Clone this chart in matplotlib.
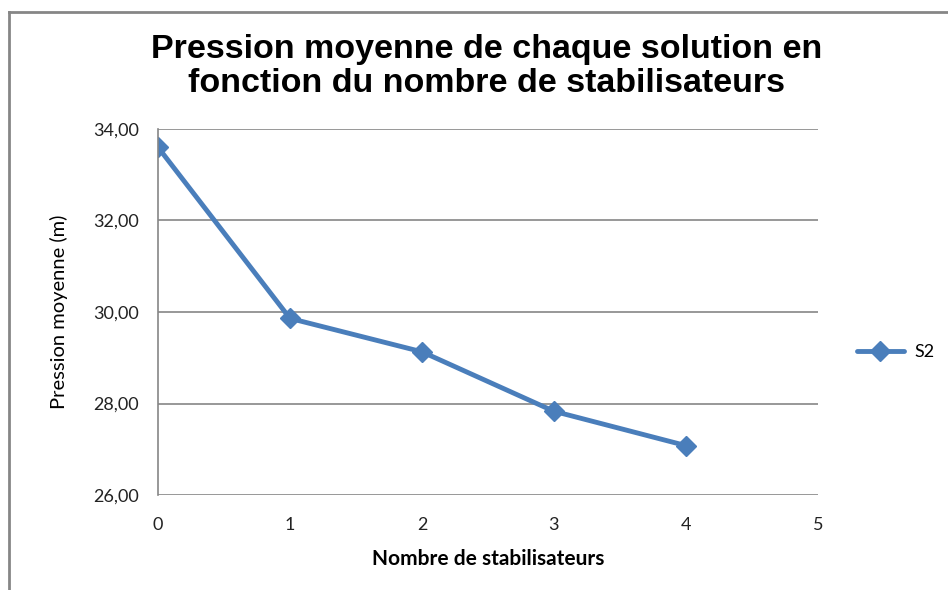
import matplotlib.pyplot as plt
from matplotlib.lines import Line2D
from matplotlib.ticker import FuncFormatter

# données
nb_stab = [0, 1, 2, 3, 4]
pression_s2 = [33.60, 29.86, 29.13, 27.83, 27.08]
serie = 'S2'
y_ticks = [26, 28, 30, 32, 34]
x_ticks = [0, 1, 2, 3, 4, 5]

blue = '#4A7EBB'
grey = '#868686'

fig = plt.figure(figsize=(9.48, 5.9), dpi=100)
ax = fig.add_axes([0.1667, 0.161, 0.696, 0.6204])

ax.plot(nb_stab, pression_s2, color=blue, lw=3.5, marker='D', ms=10,
        mec=blue, mfc=blue, label=serie, solid_capstyle='round')

ax.set_xlim(0, 5)
ax.set_ylim(26, 34)
ax.set_xticks(x_ticks)
ax.set_yticks(y_ticks)
ax.yaxis.set_major_formatter(FuncFormatter(lambda v, p: f'{v:.2f}'.replace('.', ',')))
ax.yaxis.grid(True, color=grey, lw=1.2)
ax.set_axisbelow(True)
for s in ['top', 'right', 'bottom']:
    ax.spines[s].set_visible(False)
ax.spines['left'].set_color(grey)
ax.spines['left'].set_linewidth(1.2)
ax.tick_params(axis='both', length=0, labelsize=13, colors='#222222')
ax.tick_params(axis='y', pad=14)
ax.tick_params(axis='x', pad=16)
for lab in ax.get_xticklabels() + ax.get_yticklabels():
    lab.set_family('Lato')

ax.set_xlabel('Nombre de stabilisateurs', fontsize=15, family='Lato',
              fontweight='bold', labelpad=11)
ax.set_ylabel('Pression moyenne (m)', fontsize=14.5, family='Lato', labelpad=18)

fig.text(0.513, 0.887, 'Pression moyenne de chaque solution en\nfonction du nombre de stabilisateurs',
         ha='center', va='center', fontsize=24.5, fontweight='bold',
         family='Liberation Sans', linespacing=1.15)

ax.legend(loc='center left', bbox_to_anchor=(857 / 948, 1 - 352 / 590),
          bbox_transform=fig.transFigure, frameon=False, borderaxespad=0,
          borderpad=0, handlelength=2.6, handletextpad=0.6,
          prop={'family': 'Lato', 'size': 13})

# cadre extérieur du graphique
fig.add_artist(Line2D([0.0095, 0.0095], [0.0, 1 - 12 / 590], color=grey, lw=2,
                      transform=fig.transFigure))
fig.add_artist(Line2D([0.0095, 1.0], [1 - 12 / 590, 1 - 12 / 590], color=grey, lw=2,
                      transform=fig.transFigure))

fig.savefig('out.png', dpi=100)
